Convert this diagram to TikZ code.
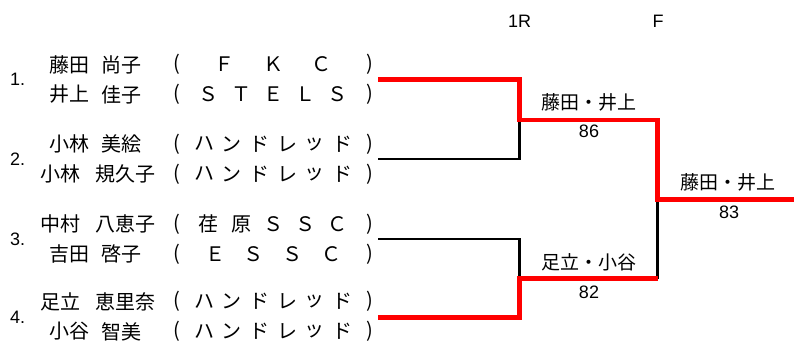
\documentclass[tikz,border=0pt]{standalone}
\usepackage{fontspec}
\setmainfont{Liberation Sans}
\newfontfamily\jp{Noto Sans CJK JP}
\tikzset{
  jt/.style={font=\jp\fontsize{20}{20}\selectfont, inner sep=0pt},
  jl/.style={font=\jp\fontsize{19}{19}\selectfont, inner sep=0pt},
  lt/.style={font=\fontsize{18}{18}\selectfont, inner sep=0pt},
  win/.style={draw=red, line width=4.5pt, line join=miter},
  lose/.style={draw=black, line width=2.7pt, line join=miter},
}
\newcommand\clubrow[4]{%
  \foreach \ch [count=\i from 0] in {#4} {\node[jt] (#1-\i) at ({176.5+\i*193.5/#3}, #2) {\ch};}}
\newcommand\namefour[4]{%
  \node[jt, anchor=west] (#1a) at (49,#2) {#3};
  \node[jt, anchor=east] (#1b) at (142,#2) {#4};}
\newcommand\namefive[4]{%
  \node[jt, anchor=west] (#1a) at (40,#2) {#3};
  \node[jt, anchor=east] (#1b) at (156,#2) {#4};}
\begin{document}
\begin{tikzpicture}[x=1pt, y=-1pt]
\useasboundingbox (0,0) rectangle (794,343);
% headers
\node[lt] (h1) at (519.5,21) {1R};
\node[lt] (h2) at (658,21) {F};
% seeds
\node[lt, anchor=west] (n1) at (10,79.5) {1.};
\node[lt, anchor=west] (n2) at (10,159) {2.};
\node[lt, anchor=west] (n3) at (10,239) {3.};
\node[lt, anchor=west] (n4) at (10,317.5) {4.};
% players
\namefour{p1}{64.5}{藤田}{尚子}
\clubrow{c1}{64.5}{4}{{(},Ｆ,Ｋ,Ｃ,{)}}
\namefour{p2}{94.5}{井上}{佳子}
\clubrow{c2}{94.5}{6}{{(},Ｓ,Ｔ,Ｅ,Ｌ,Ｓ,{)}}
\namefour{p3}{144}{小林}{美絵}
\clubrow{c3}{144}{7}{{(},ハ,ン,ド,レ,ッ,ド,{)}}
\namefive{p4}{174}{小林}{規久子}
\clubrow{c4}{174}{7}{{(},ハ,ン,ド,レ,ッ,ド,{)}}
\namefive{p5}{224}{中村}{八恵子}
\clubrow{c5}{224}{6}{{(},荏,原,Ｓ,Ｓ,Ｃ,{)}}
\namefour{p6}{254}{吉田}{啓子}
\clubrow{c6}{254}{5}{{(},Ｅ,Ｓ,Ｓ,Ｃ,{)}}
\namefive{p7}{301.5}{足立}{恵里奈}
\clubrow{c7}{301.5}{7}{{(},ハ,ン,ド,レ,ッ,ド,{)}}
\namefour{p8}{331.5}{小谷}{智美}
\clubrow{c8}{331.5}{7}{{(},ハ,ン,ド,レ,ッ,ド,{)}}
% bracket points
\coordinate (e1) at (378,79.5);
\coordinate (e2) at (378,159);
\coordinate (e3) at (378,239);
\coordinate (e4) at (378,317.5);
\coordinate (s1) at (519.5,120);
\coordinate (s2) at (519.5,278.5);
\coordinate (f) at (657.5,199.5);
\coordinate (fend) at (794,199.5);
% losers
\draw[lose] (e2) -| (s1);
\draw[lose] (e3) -| (s2);
\draw[lose] (s2 -| f) -- (f);
% winners
\draw[win] (e1) -| (s1) -| (f) -- (fend);
\draw[win] (e4) -| (s2) -- (s2 -| f);
% results
\node[jl] (w1) at (589,102) {藤田・井上};
\node[lt] (r1) at (589,131.5) {86};
\node[jl] (w2) at (589,262) {足立・小谷};
\node[lt] (r2) at (589,292) {82};
\node[jl] (wf) at (728,182) {藤田・井上};
\node[lt] (rf) at (729,212) {83};
\end{tikzpicture}
\end{document}
